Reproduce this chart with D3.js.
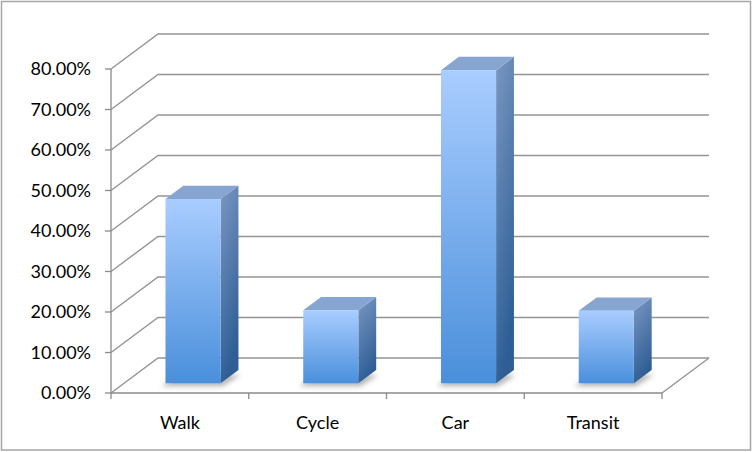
<!DOCTYPE html>
<html><head><meta charset="utf-8">
<script src="https://cdn.jsdelivr.net/npm/d3@7"></script>
<style>html,body{margin:0;padding:0;background:#fff}svg{display:block}</style>
</head><body>
<svg id="c" width="753" height="452"></svg>
<script>
const categories = ["Walk", "Cycle", "Car", "Transit"];
const values = [0.455, 0.18, 0.773, 0.179];
const tickValues = [0, 0.1, 0.2, 0.3, 0.4, 0.5, 0.6, 0.7, 0.8];

const W = 753, H = 452;
const svg = d3.select("#c");
const font = "Lato, 'Open Sans', sans-serif";

// frame
svg.append("rect").attr("x", 1.5).attr("y", 1.5).attr("width", 749).attr("height", 448.5)
  .attr("fill", "#fff").attr("stroke", "#a6a6a6").attr("stroke-width", 1.5);

const x0 = 111, x1 = 662;
const y = d3.scaleLinear().domain([0, 0.8]).range([393, 69]);
const x = d3.scaleBand().domain(categories).range([x0, x1]).paddingInner(0).paddingOuter(0);
const DX = 47, DY = -35; // full depth offset
const proj = (px, v, d) => [px + d * DX, y(v) + d * DY];

const defs = svg.append("defs");
const gF = defs.append("linearGradient").attr("id", "gFront").attr("x1", 0).attr("y1", 0).attr("x2", 0).attr("y2", 1);
gF.append("stop").attr("offset", 0).attr("stop-color", "#a9cdff");
gF.append("stop").attr("offset", 1).attr("stop-color", "#4a8fdb");
const gS = defs.append("linearGradient").attr("id", "gSide").attr("x1", 0).attr("y1", 0).attr("x2", 0.3).attr("y2", 1);
gS.append("stop").attr("offset", 0).attr("stop-color", "#7b98c2");
gS.append("stop").attr("offset", 1).attr("stop-color", "#2e5e95");
const blur = defs.append("filter").attr("id", "blur").attr("x", "-50%").attr("y", "-50%").attr("width", "200%").attr("height", "200%");
blur.append("feGaussianBlur").attr("stdDeviation", 2.5);

const gridColor = "#949494";
const grid = svg.append("g").attr("stroke", gridColor).attr("stroke-width", 1.4).attr("fill", "none");
tickValues.forEach(t => {
  const a = proj(x0, t, 0), b = proj(x0, t, 1), c = proj(x1, t, 1);
  grid.append("path").attr("d", d3.line()([a, b, c]));
});
// floor right edge
grid.append("path").attr("d", d3.line()([proj(x1, 0, 0), proj(x1, 0, 1)]));

// axes
const axisG = svg.append("g").attr("stroke", "#8a8a8a").attr("stroke-width", 1.3).attr("fill", "none");
axisG.append("line").attr("x1", x0).attr("x2", x0).attr("y1", y(0.8)).attr("y2", y(0));
axisG.append("line").attr("x1", x0).attr("x2", x1).attr("y1", y(0)).attr("y2", y(0));
tickValues.forEach(t => axisG.append("line").attr("x1", x0 - 6).attr("x2", x0).attr("y1", y(t)).attr("y2", y(t)));
const xt = categories.map(c => x(c)).concat([x1]);
xt.forEach(px => axisG.append("line").attr("x1", px).attr("x2", px).attr("y1", y(0)).attr("y2", y(0) + 6));

// tick labels
svg.append("g").selectAll("text").data(tickValues).join("text")
  .attr("x", 91).attr("y", d => y(d)).attr("dy", "0.36em").attr("text-anchor", "end")
  .attr("font-family", font).attr("font-size", 18).attr("fill", "#000")
  .text(d => (d * 100).toFixed(2) + "%");
svg.append("g").selectAll("text").data(categories).join("text")
  .attr("x", d => x(d) + x.bandwidth() / 2).attr("y", 429).attr("text-anchor", "middle")
  .attr("font-family", font).attr("font-size", 18).attr("fill", "#000")
  .text(d => d);

// bars
const barFrac = 0.4, dFront = 0.28, dDepth = 0.38;
const bars = svg.append("g");
categories.forEach((c, i) => {
  const v = values[i];
  const bw = x.bandwidth() * barFrac;
  const bx = x(c) + (x.bandwidth() - bw) / 2;
  const d0 = dFront, d1 = dFront + dDepth;
  const fl = proj(bx, 0, d0), fr = proj(bx + bw, 0, d0), br = proj(bx + bw, 0, d1), bl = proj(bx, 0, d1);
  const tfl = proj(bx, v, d0), tfr = proj(bx + bw, v, d0), tbr = proj(bx + bw, v, d1), tbl = proj(bx, v, d1);
  // shadow
  const sh = [fl, fr, br, bl].map(p => [p[0] - 4, p[1] + 3]);
  sh[1] = [sh[1][0] + 6, sh[1][1]]; sh[2] = [sh[2][0] + 6, sh[2][1] + 2];
  bars.append("path").attr("d", d3.line()(sh) + "Z").attr("fill", "#7a7a7a").attr("opacity", 0.55).attr("filter", "url(#blur)");
  // side
  bars.append("path").attr("d", d3.line()([fr, br, tbr, tfr]) + "Z").attr("fill", "url(#gSide)");
  // top
  bars.append("path").attr("d", d3.line()([tfl, tfr, tbr, tbl]) + "Z").attr("fill", "#87a5d1");
  // front
  bars.append("path").attr("d", d3.line()([fl, fr, tfr, tfl]) + "Z").attr("fill", "url(#gFront)");
});
</script>
</body></html>
